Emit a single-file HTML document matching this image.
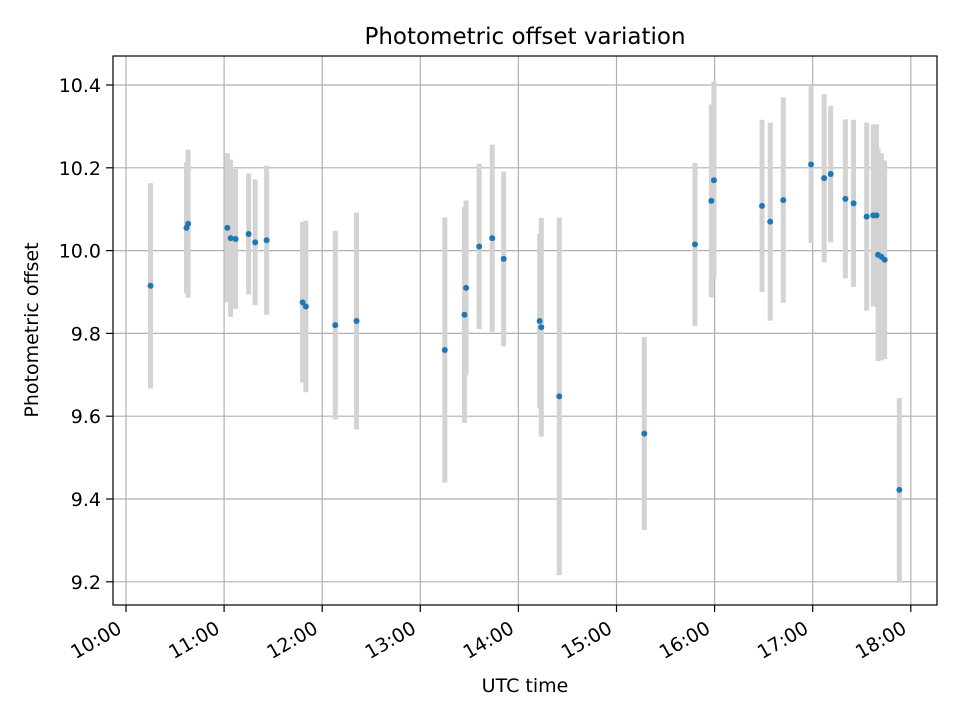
<!DOCTYPE html>
<html><head><meta charset="utf-8"><style>
body{margin:0;background:#fff}
svg text{font-family:"DejaVu Sans","Liberation Sans",sans-serif;fill:#000}
</style></head><body>
<svg id="chart" width="960" height="720" xmlns="http://www.w3.org/2000/svg">
<rect width="960" height="720" fill="#fff"/>
<g id="grid"></g>
<g id="bars"></g>
<g id="pts"></g>
<rect x="113" y="56" width="824" height="549" fill="none" stroke="#000" stroke-width="1.2"/>
<g id="ticks"></g>
<text x="525" y="44" font-size="23" text-anchor="middle">Photometric offset variation</text>
<text x="525" y="692" font-size="19" text-anchor="middle">UTC time</text>
<text x="38" y="330" font-size="19" text-anchor="middle" transform="rotate(-90 38 330)">Photometric offset</text>
</svg>
<script>
const times=["10:15","10:37","10:38","11:02","11:04","11:07","11:15","11:19","11:26","11:48","11:50","12:08","12:21","13:15","13:27","13:28","13:36","13:44","13:51","14:13","14:14","14:25","15:17","15:48","15:58","15:59.6","16:29","16:34","16:42","16:59","17:07","17:11","17:20","17:25","17:33","17:37","17:39","17:40","17:42","17:44","17:53"];
const values=[9.915,10.055,10.065,10.055,10.03,10.028,10.04,10.02,10.025,9.875,9.865,9.82,9.83,9.76,9.845,9.91,10.01,10.03,9.98,9.83,9.815,9.648,9.558,10.015,10.12,10.17,10.108,10.07,10.122,10.208,10.175,10.185,10.125,10.114,10.082,10.085,10.085,9.99,9.985,9.978,9.422];
const errors=[0.248,0.158,0.179,0.18,0.19,0.169,0.146,0.152,0.18,0.194,0.207,0.228,0.262,0.32,0.261,0.211,0.2,0.226,0.211,0.211,0.264,0.432,0.233,0.197,0.233,0.238,0.208,0.239,0.248,0.19,0.203,0.165,0.192,0.202,0.227,0.22,0.22,0.257,0.25,0.24,0.222];
const xTickLabels=["10:00","11:00","12:00","13:00","14:00","15:00","16:00","17:00","18:00"];
const yTickLabels=["9.2","9.4","9.6","9.8","10.0","10.2","10.4"];
const NS="http://www.w3.org/2000/svg";
function toH(s){const p=s.split(":");return +p[0]+(+p[1])/60;}
function xs(h){return 126+(h-10)*98.1;}
function ys(v){return 85+(10.4-v)*414;}
function mk(tag,attrs,parent){const e=document.createElementNS(NS,tag);for(const k in attrs)e.setAttribute(k,attrs[k]);parent.appendChild(e);return e;}
const grid=document.getElementById('grid'),ticks=document.getElementById('ticks'),bars=document.getElementById('bars'),pts=document.getElementById('pts');
xTickLabels.forEach(l=>{const x=xs(toH(l));
 const g=mk('line',{x1:x,x2:x,y1:56,y2:605,stroke:'#b0b0b0','stroke-width':1.2},grid);
 
 const t=mk('line',{x1:x,x2:x,y1:605,y2:612,stroke:'#000','stroke-width':1.2},ticks);
 
 const bx=x-3,by=632;
 const tx=mk('text',{x:bx,y:by,'font-size':19,'text-anchor':'end',transform:`rotate(-30 ${bx} ${by})`},ticks);
 tx.textContent=l;
 
});
yTickLabels.forEach(l=>{const y=ys(+l);
 const g=mk('line',{x1:113,x2:937,y1:y,y2:y,stroke:'#b0b0b0','stroke-width':1.2},grid);
 
 const t=mk('line',{x1:106,x2:113,y1:y,y2:y,stroke:'#000','stroke-width':1.2},ticks);
 
 const tx=mk('text',{x:101,y:y+7,'font-size':19,'text-anchor':'end'},ticks);
 tx.textContent=l;
 
});
times.forEach((t,i)=>{const x=xs(toH(t));
 const y1=Math.max(56,ys(values[i]+errors[i])),y2=Math.min(605,ys(values[i]-errors[i]));
 const b=mk('line',{x1:x,x2:x,y1:y1,y2:y2,stroke:'#d3d3d3','stroke-width':5},bars);
 
 const c=mk('circle',{cx:x,cy:ys(values[i]),r:3,fill:'#1f77b4'},pts);
 
});
</script>
</body></html>
